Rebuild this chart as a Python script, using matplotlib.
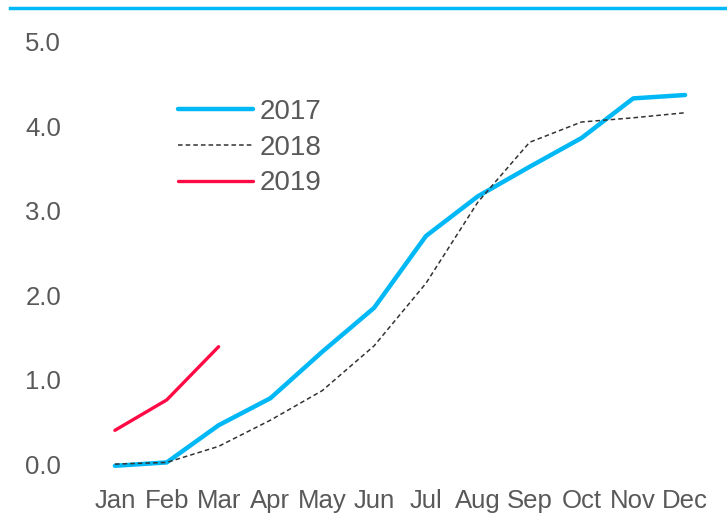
import matplotlib.pyplot as plt
from matplotlib.lines import Line2D

# Datos
meses = ['Jan', 'Feb', 'Mar', 'Apr', 'May', 'Jun', 'Jul', 'Aug', 'Sep', 'Oct', 'Nov', 'Dec']
valores_2017 = [-0.02, 0.02, 0.46, 0.78, 1.33, 1.85, 2.70, 3.17, 3.52, 3.86, 4.33, 4.37]
valores_2018 = [0.0, 0.02, 0.21, 0.52, 0.87, 1.40, 2.14, 3.10, 3.81, 4.05, 4.10, 4.16]
valores_2019 = [0.40, 0.76, 1.39]
ticks_y = [0.0, 1.0, 2.0, 3.0, 4.0, 5.0]

color_texto = '#595959'
plt.rcParams['font.family'] = ['Liberation Sans', 'DejaVu Sans']

fig = plt.figure(figsize=(7.27, 5.18), dpi=100)
ax = fig.add_axes([89 / 727, 37 / 518, 622 / 727, 473 / 518])

x = list(range(len(meses)))
ax.plot(x, valores_2017, color='#00B8F5', linewidth=3.2, label='2017', solid_capstyle='round')
ax.plot(x, valores_2018, color='#333333', linewidth=1.1, linestyle=(0, (3, 2)), label='2018')
ax.plot(x[:len(valores_2019)], valores_2019, color='#FF0A45', linewidth=2.4, label='2019',
        solid_capstyle='round')

ax.set_xlim(-0.5, 11.5)
ax.set_ylim(-0.2, 5.4)
ax.set_xticks(x)
ax.set_xticklabels(meses)
ax.set_yticks(ticks_y)
ax.set_yticklabels([f'{v:.1f}' for v in ticks_y])
ax.tick_params(axis='both', length=0, labelsize=18.5, labelcolor=color_texto)
ax.tick_params(axis='y', pad=20)
ax.tick_params(axis='x', pad=6)
for s in ax.spines.values():
    s.set_visible(False)

leg = ax.legend(loc='upper left', bbox_to_anchor=(164 / 727, 1 - 85 / 518),
                bbox_transform=fig.transFigure, frameon=False, fontsize=20,
                handlelength=2.7, handletextpad=0.25, labelspacing=0.35, borderpad=0)
for t in leg.get_texts():
    t.set_color(color_texto)

# línea superior
fig.add_artist(Line2D([10 / 727, 1.0], [1 - 8 / 518, 1 - 8 / 518], color='#00B8F5',
                      linewidth=2.5, transform=fig.transFigure))

fig.savefig('out.png', dpi=100)
